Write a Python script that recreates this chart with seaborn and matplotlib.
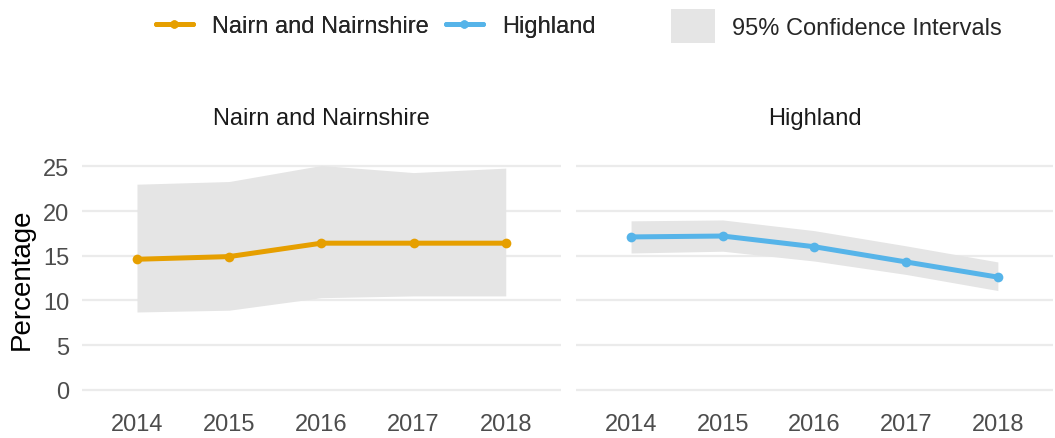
import pandas as pd
import seaborn as sns
import matplotlib.pyplot as plt
from matplotlib.lines import Line2D
from matplotlib.patches import Patch

# Values
years = [2014, 2015, 2016, 2017, 2018]
areas = ["Nairn and Nairnshire", "Highland"]
nairn_pct = [14.6, 14.9, 16.4, 16.4, 16.4]
nairn_lower = [8.7, 8.9, 10.3, 10.5, 10.5]
nairn_upper = [23.0, 23.3, 25.1, 24.3, 24.8]
highland_pct = [17.1, 17.2, 16.0, 14.3, 12.6]
highland_lower = [15.3, 15.5, 14.4, 12.9, 11.1]
highland_upper = [18.9, 19.0, 17.8, 16.1, 14.3]
colours = {"Nairn and Nairnshire": "#E69F00", "Highland": "#56B4E9"}

df = pd.concat([
    pd.DataFrame({"Year": years, "Percentage": nairn_pct, "Lower": nairn_lower,
                  "Upper": nairn_upper, "Area": areas[0]}),
    pd.DataFrame({"Year": years, "Percentage": highland_pct, "Lower": highland_lower,
                  "Upper": highland_upper, "Area": areas[1]}),
], ignore_index=True)

sns.set_theme(style="white")
plt.rcParams['font.family'] = ['Liberation Sans', 'DejaVu Sans']
fs = 17

fig = plt.figure(figsize=(10.55, 4.39), dpi=100)
ax_positions = [[0.0774, 0.0845, 0.4544, 0.5608], [0.546, 0.0845, 0.452, 0.5608]]

for i, area in enumerate(areas):
    ax = fig.add_axes(ax_positions[i])
    sub = df[df["Area"] == area]
    # confidence band behind the line
    ax.fill_between(sub["Year"], sub["Lower"], sub["Upper"], color="#E5E5E5",
                    linewidth=0, zorder=1)
    sns.lineplot(data=sub, x="Year", y="Percentage", color=colours[area],
                 linewidth=3.6, marker="o", markersize=7, markeredgewidth=0,
                 ax=ax, zorder=3)
    ax.set_xlim(2014 - 0.6, 2018 + 0.6)
    ax.set_ylim(-1.25, 26.3)
    ax.set_xticks(years)
    ax.set_yticks([0, 5, 10, 15, 20, 25])
    ax.grid(axis="y", color="#EBEBEB", linewidth=1.6, zorder=0)
    ax.set_axisbelow(True)
    for s in ax.spines.values():
        s.set_visible(False)
    ax.tick_params(axis="x", length=0, labelsize=fs, labelcolor="#4D4D4D", pad=9)
    ax.tick_params(axis="y", length=0, labelsize=fs, labelcolor="#4D4D4D", pad=9)
    ax.set_xlabel("")
    ax.set_title(area, fontsize=fs, color="#1A1A1A", pad=22)
    if i == 0:
        ax.set_ylabel("Percentage", fontsize=20, color="black", labelpad=6)
    else:
        ax.set_ylabel("")
        ax.set_yticklabels([])

# legend across the top
line_handles = [Line2D([0], [0], color=colours[a], linewidth=3.6, marker="o",
                       markersize=6, markeredgewidth=0) for a in areas]
leg1 = fig.legend(line_handles, areas, loc="center left", bbox_to_anchor=(0.1275, 0.938),
                  ncol=2, frameon=False, fontsize=fs, handlelength=1.57,
                  handletextpad=0.82, columnspacing=0.72)
fig.add_artist(leg1)
fig.legend([Patch(facecolor="#E5E5E5", edgecolor="none")], ["95% Confidence Intervals"],
           loc="center left", bbox_to_anchor=(0.6155, 0.938), frameon=False,
           fontsize=fs, handlelength=1.86, handleheight=1.86, handletextpad=0.72)

fig.savefig("out.png", dpi=100)
